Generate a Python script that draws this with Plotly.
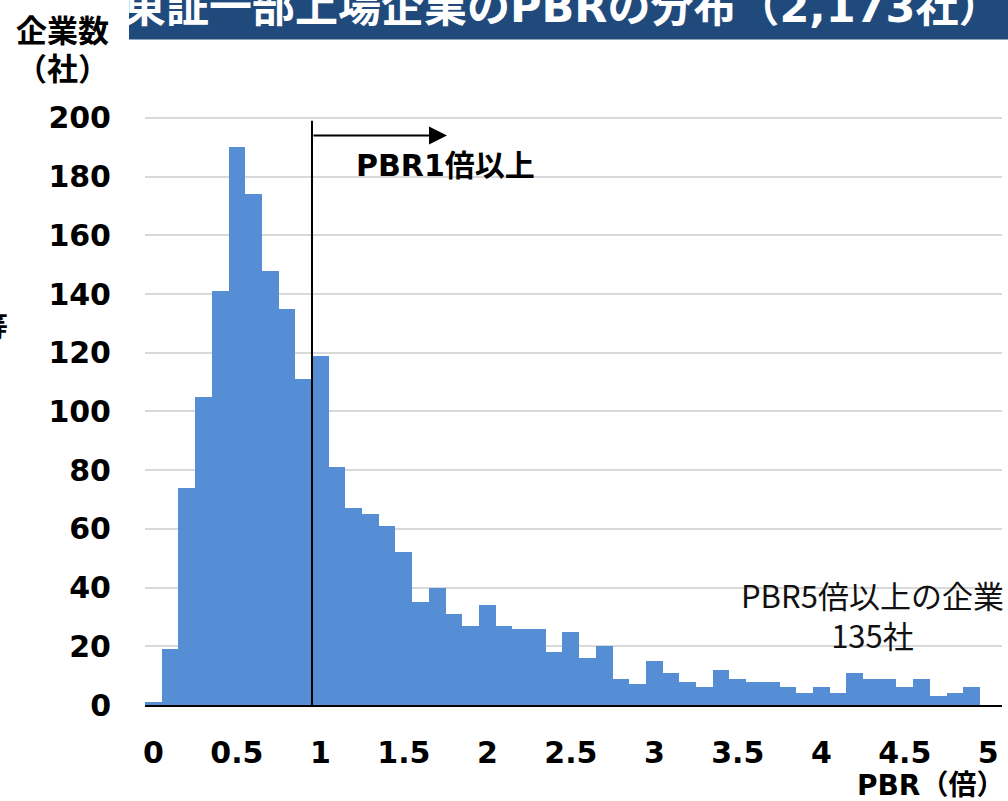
import plotly.graph_objects as go

# ---- data ----
bin_width = 0.1  # PBR width of each bin
counts = [1, 19, 74, 105, 141, 190, 174, 148, 135, 111,
          119, 81, 67, 65, 61, 52, 35, 40, 31, 27,
          34, 27, 26, 26, 18, 25, 16, 20, 9, 7,
          15, 11, 8, 6, 12, 9, 8, 8, 6, 4,
          6, 4, 11, 9, 9, 6, 9, 3, 4, 6,
          0]
tick_labels = ["0", "0.5", "1", "1.5", "2", "2.5", "3", "3.5", "4", "4.5", "5"]
y_ticks = [0, 20, 40, 60, 80, 100, 120, 140, 160, 180, 200]
threshold_pbr = 1.0
over5_count = 135
total_count = 2173

x_idx = list(range(len(counts)))
tickvals = [i * 5 for i in range(len(tick_labels))]

# ---- layout geometry (pixels) ----
W, H = 1008, 801
L, R, T, B = 145, 6, 115, 96
PW = W - L - R
PH = H - T - B
X_MAX = 50.82


def pxx(p):
    return (p - L) / PW


def pxy(p):
    return (H - B - p) / PH


BAR = "#558ED5"
BOLD_FONT = "DejaVu Sans, Noto Sans CJK JP, sans-serif"
CJK_FONT = "Noto Sans CJK JP, DejaVu Sans, sans-serif"

fig = go.Figure()
fig.add_trace(go.Bar(
    x=x_idx, y=counts, width=1.0,
    marker=dict(color=BAR, line=dict(width=0)),
    hoverinfo="skip",
))

line_x = threshold_pbr / bin_width - 0.5
unit_px = PW / (X_MAX + 0.5)

shapes = [
    # title box
    dict(type="rect", xref="paper", yref="paper",
         x0=pxx(129), x1=pxx(1010), y0=pxy(39.5), y1=pxy(-2),
         fillcolor="#214A7C", line=dict(width=0), layer="above"),
    # PBR = 1 vertical line
    dict(type="line", xref="x", yref="y", x0=line_x, x1=line_x, y0=0, y1=199,
         line=dict(color="black", width=2), layer="above"),
]

annotations = [
    # title (partially cropped at the top)
    dict(text=f"東証一部上場企業のPBRの分布（{total_count:,}社）",
         xref="paper", yref="paper", x=pxx(562), y=pxy(7),
         xanchor="center", yanchor="middle", showarrow=False,
         font=dict(family=BOLD_FONT, size=43, color="white", weight="bold")),
    # y-axis title
    dict(text="企業数", xref="paper", yref="paper", x=pxx(62), y=pxy(28),
         xanchor="center", yanchor="middle", showarrow=False,
         font=dict(family=CJK_FONT, size=31, color="black", weight="bold")),
    dict(text="（社）", xref="paper", yref="paper", x=pxx(62), y=pxy(67),
         xanchor="center", yanchor="middle", showarrow=False,
         font=dict(family=CJK_FONT, size=31, color="black", weight="bold")),
    # cropped char at left edge
    dict(text="等", xref="paper", yref="paper", x=pxx(10), y=pxy(325),
         xanchor="right", yanchor="middle", showarrow=False,
         font=dict(family=CJK_FONT, size=28, color="black", weight="bold")),
    # x-axis title
    dict(text="PBR（倍）", xref="paper", yref="paper", x=pxx(1006), y=pxy(785),
         xanchor="right", yanchor="middle", showarrow=False,
         font=dict(family=BOLD_FONT, size=28, color="black", weight="bold")),
    # arrow
    dict(text="", xref="x", yref="y", axref="x", ayref="y",
         x=(447 - L) / unit_px - 0.5, y=194.0, ax=line_x, ay=194.0,
         showarrow=True, arrowhead=2, arrowsize=1.8, arrowwidth=2, arrowcolor="black",
         standoff=0, startstandoff=0),
    dict(text="PBR1倍以上", xref="paper", yref="paper", x=pxx(445), y=pxy(165),
         xanchor="center", yanchor="middle", showarrow=False,
         font=dict(family=BOLD_FONT, size=30, color="black", weight="bold")),
    # PBR >= 5 note
    dict(text=f"PBR5倍以上の企業<br>{over5_count}社", xref="paper", yref="paper",
         x=pxx(872), y=pxy(614), xanchor="center", yanchor="middle", showarrow=False,
         align="center",
         font=dict(family=CJK_FONT, size=31, color="#111111")),
]

fig.update_layout(
    width=W, height=H,
    margin=dict(l=L, r=R, t=T, b=B, pad=0),
    paper_bgcolor="white", plot_bgcolor="white",
    showlegend=False, bargap=0,
    shapes=shapes, annotations=annotations,
    xaxis=dict(
        range=[-0.5, X_MAX], tickmode="array", tickvals=tickvals, ticktext=tick_labels,
        showgrid=False, zeroline=False, showline=True, linecolor="black", linewidth=2,
        ticks="", ticklabelstandoff=20,
        tickfont=dict(family=BOLD_FONT, size=30, color="black", weight="bold"),
        fixedrange=True,
    ),
    yaxis=dict(
        range=[0, 201], tickmode="array", tickvals=y_ticks,
        showgrid=True, gridcolor="#D9D9D9", gridwidth=1.5,
        zeroline=False, showline=False, ticks="", ticklabelstandoff=33,
        tickfont=dict(family=BOLD_FONT, size=30, color="black", weight="bold"),
        fixedrange=True,
    ),
)

fig.write_html(
    "out.html",
    config={"displayModeBar": False},
    post_script="document.body.style.margin='0';document.body.style.overflow='hidden';",
)
